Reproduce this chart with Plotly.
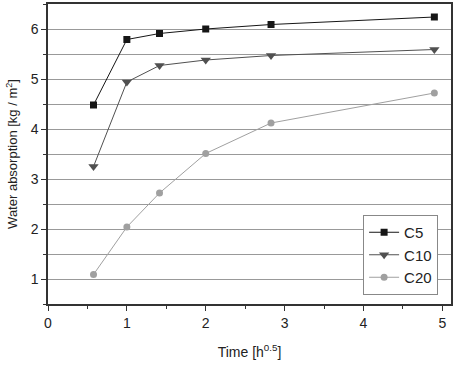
import plotly.graph_objects as go

time_x = [0.577, 1.0, 1.414, 2.0, 2.828, 4.899]
c5 = [4.48, 5.79, 5.91, 6.00, 6.09, 6.24]
c10 = [3.25, 4.94, 5.27, 5.38, 5.47, 5.59]
c20 = [1.09, 2.04, 2.72, 3.51, 4.12, 4.72]

series = [
    ("C5", c5, "#161616", "square", 7),
    ("C10", c10, "#505050", "triangle-down", 9),
    ("C20", c20, "#a0a0a0", "circle", 7),
]

fig = go.Figure()
for name, ys, col, sym, sz in series:
    fig.add_trace(go.Scatter(
        x=time_x, y=ys, name=name, mode="lines+markers",
        line=dict(color=col, width=1),
        marker=dict(symbol=sym, size=sz, color=col),
    ))

font = "Liberation Sans, Arial, sans-serif"
fig.update_layout(
    width=473, height=366,
    margin=dict(l=48, r=22, t=4, b=62),
    paper_bgcolor="white", plot_bgcolor="white",
    font=dict(family=font, size=14, color="#222"),
    showlegend=True,
    legend=dict(
        x=0.968, y=0.03, xanchor="right", yanchor="bottom",
        bgcolor="white", bordercolor="#888", borderwidth=1,
        font=dict(size=15, family=font, color="#222"),
        tracegroupgap=0,
    ),
    xaxis=dict(
        range=[0, 5.11], tickmode="linear", tick0=0, dtick=1,
        automargin=False,
        showgrid=False, zeroline=False,
        showline=True, linecolor="#333", linewidth=1.5, mirror=True,
        ticks="outside", ticklen=5, tickcolor="#333",
        tickfont=dict(size=14),
        minor=dict(dtick=0.5, ticks="outside", ticklen=3, tickcolor="#333"),
        title=dict(text="Time [h<sup>0.5</sup>]", font=dict(size=14), standoff=18),
    ),
    yaxis=dict(
        range=[0.5, 6.5], tickmode="linear", tick0=0, dtick=1,
        automargin=False,
        showgrid=True, gridcolor="#999", gridwidth=1,
        zeroline=False,
        showline=True, linecolor="#333", linewidth=1.5, mirror=True,
        ticks="outside", ticklen=5, tickcolor="#333",
        tickfont=dict(size=14),
        minor=dict(dtick=0.5, ticks="outside", ticklen=3, tickcolor="#333",
                   showgrid=True, gridcolor="#999", gridwidth=1),
        title=dict(text="Water absorption [kg / m<sup>2</sup>]", font=dict(size=13), standoff=10),
    ),
)

fig.write_html(
    "out.html",
    config={"displayModeBar": False},
    post_script="document.body.style.margin='0';document.body.style.padding='0';",
)
